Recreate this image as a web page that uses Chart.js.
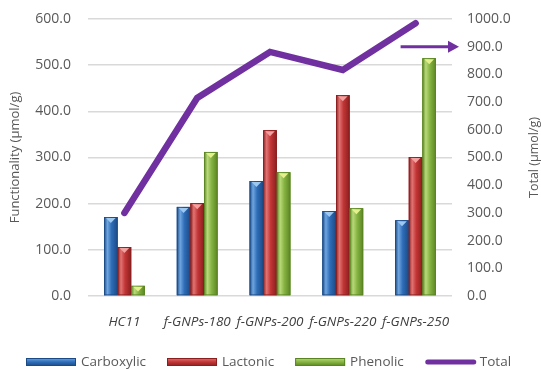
<!DOCTYPE html>
<html>
<head>
<meta charset="utf-8">
<script src="https://cdn.jsdelivr.net/npm/chart.js@4.4.1/dist/chart.umd.min.js"></script>
<style>
  html, body { margin: 0; padding: 0; background: #fff; }
  #wrap { width: 541px; height: 370px; }
</style>
</head>
<body>
<div id="wrap"><canvas id="chart" width="541" height="370"></canvas></div>
<script>
// data
const categories = ['HC11', 'f-GNPs-180', 'f-GNPs-200', 'f-GNPs-220', 'f-GNPs-250'];
const carboxylic = [171, 193, 249, 184, 164];
const lactonic = [106, 201, 359, 435, 301];
const phenolic = [22, 312, 268, 190, 515];
const total = [300, 715, 881, 816, 985];

const leftMax = 600;
const rightMax = 1000;
const tickStep = 100;

const FONT = '"Open Sans", "DejaVu Sans", sans-serif';
const TEXT = '#595959';

// fill, edge, highlight, top triangle
const barStyles = [
    { fill: '#2E6DB8', edge: '#1C4A84', light: '#6FA6E0', tri: '#9CC8F2' },
    { fill: '#C23535', edge: '#8A1F1F', light: '#E27373', tri: '#F2A0A0' },
    { fill: '#86B443', edge: '#5A8422', light: '#B9D97A', tri: '#E4F08C' }
];
const lineColor = '#7030A0';

// gives the bars a bit of the glassy Excel look
const barGloss = {
    id: 'barGloss',
    afterDatasetsDraw(chart) {
        const ctx = chart.ctx;
        chart.data.datasets.forEach((ds, i) => {
            if (ds.type === 'line') return;
            const st = barStyles[i];
            chart.getDatasetMeta(i).data.forEach((bar) => {
                const w = bar.width;
                const left = bar.x - w / 2;
                const top = bar.y;
                const bottom = bar.base;
                ctx.save();
                let g = ctx.createLinearGradient(left, 0, left + w, 0);
                g.addColorStop(0, st.edge);
                g.addColorStop(0.25, st.light);
                g.addColorStop(0.55, st.fill);
                g.addColorStop(1, st.edge);
                ctx.fillStyle = g;
                ctx.fillRect(left, top, w, bottom - top);
                ctx.strokeStyle = st.edge;
                ctx.lineWidth = 0.8;
                ctx.strokeRect(left + 0.4, top + 0.4, w - 0.8, bottom - top - 0.8);
                // little triangle at the top of each bar
                const th = Math.min(5, (bottom - top) / 2);
                ctx.fillStyle = st.tri;
                ctx.beginPath();
                ctx.moveTo(left + 2, top + 1);
                ctx.lineTo(left + w - 2, top + 1);
                ctx.lineTo(bar.x, top + 1 + th);
                ctx.closePath();
                ctx.fill();
                ctx.restore();
            });
        });
    }
};

// right axis title (reads bottom-to-top), the arrow note and the legend row
const extras = {
    id: 'extras',
    afterDraw(chart) {
        const ctx = chart.ctx;
        const area = chart.chartArea;
        const y1 = chart.scales.y1;
        const x = chart.scales.x;
        ctx.save();
        ctx.fillStyle = TEXT;
        ctx.font = '12.5px ' + FONT;
        ctx.textAlign = 'center';
        ctx.textBaseline = 'middle';
        ctx.translate(534, (area.top + area.bottom) / 2);
        ctx.rotate(-Math.PI / 2);
        ctx.fillText('Total (µmol/g)', 0, 0);
        ctx.restore();

        // arrow pointing to the right axis
        const ay = y1.getPixelForValue(900);
        const ax0 = x.getPixelForValue(4) - 15;
        const ax1 = area.right + 7;
        ctx.save();
        ctx.strokeStyle = lineColor;
        ctx.fillStyle = lineColor;
        ctx.lineWidth = 3;
        ctx.beginPath();
        ctx.moveTo(ax0, ay);
        ctx.lineTo(ax1 - 9, ay);
        ctx.stroke();
        ctx.beginPath();
        ctx.moveTo(ax1, ay);
        ctx.lineTo(ax1 - 11, ay - 6);
        ctx.lineTo(ax1 - 11, ay + 6);
        ctx.closePath();
        ctx.fill();
        ctx.restore();

        // legend
        const ly = 362;
        let lx = 26;
        ctx.save();
        ctx.font = '13.5px ' + FONT;
        ctx.textBaseline = 'middle';
        ctx.textAlign = 'left';
        chart.data.datasets.forEach((ds, i) => {
            if (ds.type === 'line') {
                ctx.strokeStyle = lineColor;
                ctx.lineWidth = 5;
                ctx.lineCap = 'round';
                ctx.beginPath();
                ctx.moveTo(lx + 3, ly);
                ctx.lineTo(lx + 49, ly);
                ctx.stroke();
            } else {
                const st = barStyles[i];
                const g = ctx.createLinearGradient(0, ly - 4, 0, ly + 4);
                g.addColorStop(0, st.light);
                g.addColorStop(0.5, st.fill);
                g.addColorStop(1, st.edge);
                ctx.fillStyle = g;
                ctx.fillRect(lx, ly - 4, 50, 8);
                ctx.strokeStyle = st.edge;
                ctx.lineWidth = 1;
                ctx.strokeRect(lx + 0.5, ly - 3.5, 49, 7);
            }
            ctx.fillStyle = TEXT;
            ctx.fillText(ds.label, lx + 55, ly);
            lx += 55 + ctx.measureText(ds.label).width + 21;
        });
        ctx.restore();
    }
};

// fixed axis sizes so the plot area sits where it does in the figure
function fixWidth(w) {
    return (scale) => {
        scale.width = w;
        scale.paddingTop = 0;
        scale.paddingBottom = 0;
    };
}

const ctx = document.getElementById('chart').getContext('2d');

const config = {
    type: 'bar',
    data: {
        labels: categories,
        datasets: [
            { label: 'Carboxylic', data: carboxylic, backgroundColor: barStyles[0].fill, yAxisID: 'y', order: 2 },
            { label: 'Lactonic', data: lactonic, backgroundColor: barStyles[1].fill, yAxisID: 'y', order: 2 },
            { label: 'Phenolic', data: phenolic, backgroundColor: barStyles[2].fill, yAxisID: 'y', order: 2 },
            {
                type: 'line', label: 'Total', data: total, yAxisID: 'y1', order: 1,
                borderColor: lineColor, backgroundColor: lineColor,
                borderWidth: 6.5, pointRadius: 0, tension: 0,
                borderCapStyle: 'round', borderJoinStyle: 'miter'
            }
        ]
    },
    options: {
        responsive: false,
        animation: false,
        datasets: {
            bar: { barPercentage: 1, categoryPercentage: 0.56 }
        },
        layout: { padding: { top: 19, right: 17, left: 7, bottom: 40 } },
        plugins: {
            tooltip: { enabled: false },
            legend: { display: false }
        },
        scales: {
            x: {
                grid: { display: false, drawTicks: false },
                border: { display: false },
                afterFit: (scale) => { scale.height = 34; },
                ticks: {
                    color: '#404040',
                    padding: 18,
                    autoSkip: false,
                    maxRotation: 0,
                    minRotation: 0,
                    font: { size: 13.5, family: FONT, style: 'italic' }
                }
            },
            y: {
                min: 0, max: leftMax,
                grid: { color: '#D9D9D9', lineWidth: 1.5, drawTicks: false },
                border: { display: false },
                afterFit: fixWidth(81),
                ticks: {
                    stepSize: tickStep,
                    autoSkip: false,
                    padding: 17,
                    color: TEXT,
                    font: { size: 14, family: FONT },
                    callback: (v) => v.toFixed(1)
                },
                title: {
                    display: true,
                    text: 'Functionality (µmol/g)',
                    color: TEXT,
                    font: { size: 13, family: FONT },
                    padding: { top: 0, bottom: 4 }
                }
            },
            y1: {
                position: 'right',
                min: 0, max: rightMax,
                grid: { drawOnChartArea: false, display: false, drawTicks: false },
                border: { display: false },
                afterFit: fixWidth(72),
                ticks: {
                    stepSize: tickStep,
                    autoSkip: false,
                    padding: 15,
                    color: TEXT,
                    font: { size: 14, family: FONT },
                    callback: (v) => v.toFixed(1)
                }
            }
        }
    },
    plugins: [barGloss, extras]
};

const chart = new Chart(ctx, config);
</script>
</body>
</html>
